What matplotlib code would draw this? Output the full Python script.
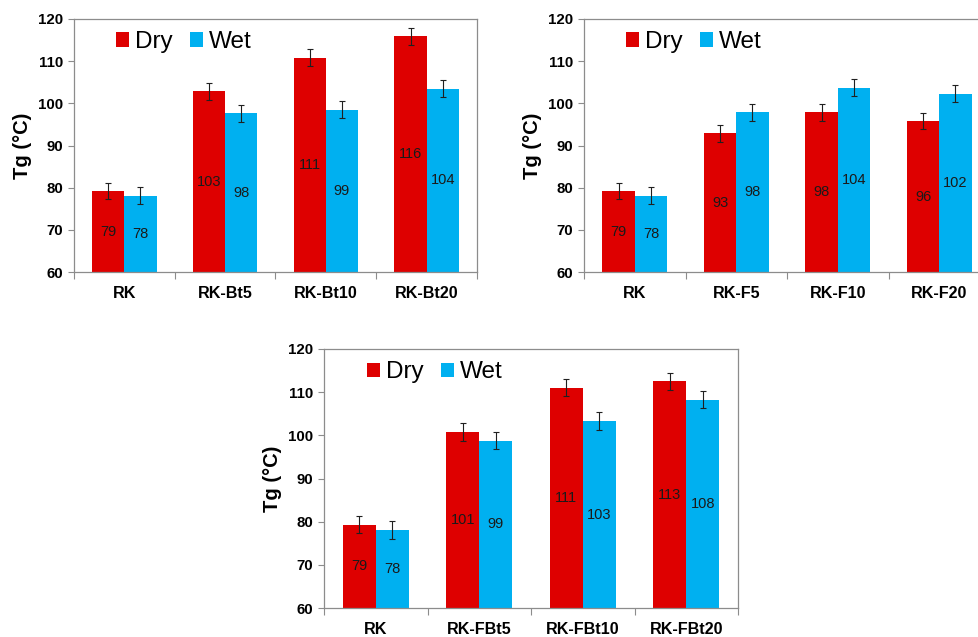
import matplotlib
matplotlib.use("Agg")
import matplotlib.pyplot as plt
from matplotlib.patches import Patch
import numpy as np

plt.rcParams['font.family'] = ['Liberation Sans', 'DejaVu Sans']

# ---- data ----
series_names = ["Dry", "Wet"]
yticks = [60, 70, 80, 90, 100, 110, 120]

cats1 = ["RK", "RK-Bt5", "RK-Bt10", "RK-Bt20"]
dry1 = [79.2, 102.9, 110.8, 115.9]
wet1 = [78.1, 97.6, 98.5, 103.5]
dry1_lab = ["79", "103", "111", "116"]
wet1_lab = ["78", "98", "99", "104"]

cats2 = ["RK", "RK-F5", "RK-F10", "RK-F20"]
dry2 = [79.2, 92.9, 97.9, 95.8]
wet2 = [78.1, 97.9, 103.7, 102.3]
dry2_lab = ["79", "93", "98", "96"]
wet2_lab = ["78", "98", "104", "102"]

cats3 = ["RK", "RK-FBt5", "RK-FBt10", "RK-FBt20"]
dry3 = [79.3, 100.8, 111.0, 112.5]
wet3 = [78.1, 98.8, 103.3, 108.3]
dry3_lab = ["79", "101", "111", "113"]
wet3_lab = ["78", "99", "103", "108"]

err = 2.0

RED = "#DE0000"
BLUE = "#00B0F0"
GRAY = "#8C8C8C"

W, H = 979, 637
fig = plt.figure(figsize=(W / 100, H / 100), dpi=100)


def make_ax(left, right, top, bottom):
    return fig.add_axes([left / W, 1 - bottom / H, (right - left) / W, (bottom - top) / H])


def draw(ax, cats, dry, wet, dlab, wlab):
    x = np.arange(len(cats))
    bw = 0.32
    b1 = ax.bar(x - bw / 2, np.array(dry) - 60, bw, bottom=60, color=RED, zorder=2)
    b2 = ax.bar(x + bw / 2, np.array(wet) - 60, bw, bottom=60, color=BLUE, zorder=2)
    ax.errorbar(x - bw / 2, dry, yerr=err, fmt='none', ecolor='#202020',
                elinewidth=0.8, capsize=2.2, capthick=0.8, zorder=3)
    ax.errorbar(x + bw / 2, wet, yerr=err, fmt='none', ecolor='#202020',
                elinewidth=0.8, capsize=2.2, capthick=0.8, zorder=3)
    ax.bar_label(b1, labels=dlab, label_type='center', fontsize=10.5, color='#1a1a1a')
    ax.bar_label(b2, labels=wlab, label_type='center', fontsize=10.5, color='#1a1a1a')

    ax.set_xlim(-0.5, len(cats) - 0.5)
    ax.set_ylim(60, 120)
    ax.set_yticks(yticks)
    ax.set_yticklabels([str(v) for v in yticks], fontsize=10.8, fontweight='bold')
    ax.set_xticks(x)
    ax.set_xticklabels(cats, fontsize=11.6, fontweight='bold')
    ax.set_xticks(np.arange(len(cats) + 1) - 0.5, minor=True)
    ax.tick_params(axis='x', which='major', length=0, pad=10)
    ax.tick_params(axis='x', which='minor', length=5, width=0.8, color=GRAY, direction='out')
    ax.tick_params(axis='y', length=4, width=0.8, color=GRAY, direction='out', pad=4)
    for s in ax.spines.values():
        s.set_color(GRAY)
        s.set_linewidth(0.9)
    ax.set_ylabel("Tg (°C)", fontsize=14.5, fontweight='bold', labelpad=4)
    handles = [Patch(facecolor=RED), Patch(facecolor=BLUE)]
    ax.legend(handles, series_names, loc='upper left', bbox_to_anchor=(0.103, 0.952),
              ncol=2, frameon=False, fontsize=17.5, handlelength=0.55, handleheight=0.55,
              handletextpad=0.25, columnspacing=0.7, borderaxespad=0, borderpad=0)


ax1 = make_ax(74, 477, 19, 272)
draw(ax1, cats1, dry1, wet1, dry1_lab, wet1_lab)

ax2 = make_ax(584, 990, 19, 272)
draw(ax2, cats2, dry2, wet2, dry2_lab, wet2_lab)

ax3 = make_ax(324, 738, 349, 608)
draw(ax3, cats3, dry3, wet3, dry3_lab, wet3_lab)

fig.savefig("out.png", dpi=100)
